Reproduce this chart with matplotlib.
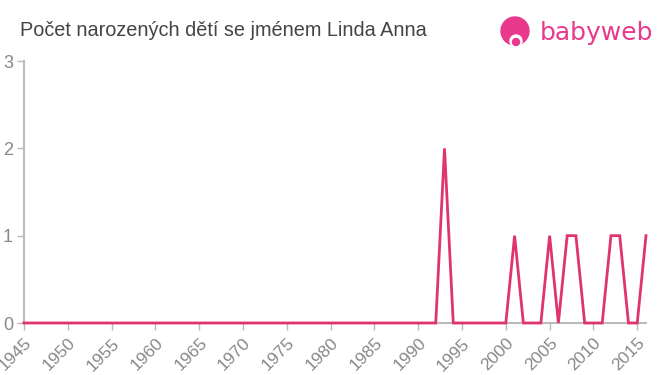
import numpy as np
import matplotlib.pyplot as plt
from matplotlib.patches import Circle

years = list(range(1945, 2017))
counts = [0] * len(years)
nonzero = {1993: 2, 2001: 1, 2005: 1, 2007: 1, 2008: 1, 2012: 1, 2013: 1, 2016: 1}
for y, c in nonzero.items():
    counts[years.index(y)] = c

x_ticks = list(range(1945, 2016, 5))
y_ticks = [0, 1, 2, 3]
title = "Počet narozených dětí se jménem Linda Anna"

line_color = "#e0356b"
axis_color = "#bbbbbb"
label_color = "#888888"
pink = "#e8398c"

plt.rcParams["font.family"] = ["Liberation Sans", "DejaVu Sans"]

fig = plt.figure(figsize=(6.6, 3.75), dpi=100)
ax = fig.add_axes([24 / 660, 1 - 323 / 375, (646 - 24) / 660, (323 - 61) / 375])

ax.plot(years, counts, color=line_color, lw=2, solid_joinstyle="miter", clip_on=False, zorder=3)

ax.set_xlim(1945, 2016)
ax.set_ylim(0, 3)
ax.set_xticks(x_ticks)
ax.set_yticks(y_ticks)
ax.set_xticklabels([str(t) for t in x_ticks], rotation=45, ha="right", va="top",
                   rotation_mode="anchor")
ax.tick_params(axis="both", colors=axis_color, labelcolor=label_color, labelsize=13,
               length=5, width=1)
ax.tick_params(axis="x", pad=4, labelsize=12.5)
ax.tick_params(axis="y", pad=3)

for s in ["top", "right"]:
    ax.spines[s].set_visible(False)
for s in ["left", "bottom"]:
    ax.spines[s].set_color(axis_color)
    ax.spines[s].set_linewidth(1.5)

fig.text(20 / 660, 1 - 30 / 375, title, fontsize=14.3, color="#444444", va="center", ha="left")

# logo
logo = fig.add_axes([0, 0, 1, 1], facecolor="none")
logo.set_xlim(0, 660)
logo.set_ylim(375, 0)
logo.axis("off")
logo.add_patch(Circle((515, 31), 14, color=pink))
logo.add_patch(Circle((516, 41), 6, color="white"))
logo.add_patch(Circle((516, 42), 3.5, color=pink))
logo.text(540, 33, "babyweb", fontsize=18, color=pink, va="center", ha="left",
          family="DejaVu Sans")

fig.savefig("out.png", dpi=100)
